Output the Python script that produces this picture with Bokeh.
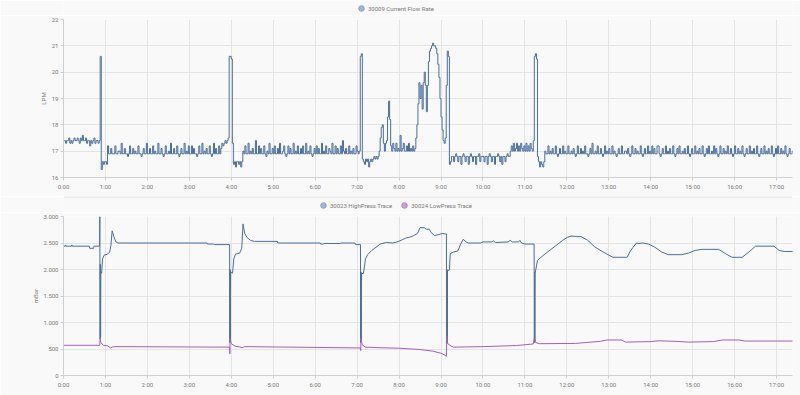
from bokeh.plotting import figure
from bokeh.layouts import column
from bokeh.models import Range1d, FixedTicker, Legend, LegendItem, Span
from bokeh.embed import file_html
from bokeh.resources import INLINE

# ---------------- data ----------------
hour_ticks = [0, 1, 2, 3, 4, 5, 6, 7, 8, 9, 10, 11, 12, 13, 14, 15, 16, 17]
hour_labels = ["0:00", "1:00", "2:00", "3:00", "4:00", "5:00", "6:00", "7:00", "8:00",
               "9:00", "10:00", "11:00", "12:00", "13:00", "14:00", "15:00", "16:00", "17:00"]

flow_ticks = [16, 17, 18, 19, 20, 21, 22]
flow_labels = ["16", "17", "18", "19", "20", "21", "22"]
press_ticks = [0, 500, 1000, 1500, 2000, 2500, 3000]
press_labels = ["0", "500", "1.000", "1.500", "2.000", "2.500", "3.000"]

# Current flow rate (LPM), one reading every 1.5 minutes, one list per hour
FLOW_SAMPLE_H = 0.025
flow_h00 = [17.4, 17.4, 17.3, 17.4, 17.4, 17.5, 17.3, 17.4, 17.3, 17.4, 17.5, 17.4, 17.4, 17.5, 17.4, 17.3, 17.5, 17.4, 17.6, 17.4,
            17.4, 17.5, 17.3, 17.4, 17.4, 17.2, 17.4, 17.3, 17.4, 17.5, 17.3, 17.4, 17.4, 17.3, 17.4, 20.6, 16.3, 16.6, 16.5, 16.6]
flow_h01 = [16.6, 16.5, 17.2, 16.9, 16.9, 17.1, 16.9, 16.9, 16.9, 17.2, 16.9, 16.9, 17.0, 17.0, 16.9, 17.3, 16.9, 16.9, 17.1, 16.9,
            16.9, 16.8, 16.9, 17.2, 16.9, 16.9, 17.1, 16.9, 17.0, 16.9, 16.9, 17.2, 16.9, 16.9, 16.8, 16.9, 17.1, 16.9, 16.9, 17.3]
flow_h02 = [16.9, 16.9, 17.1, 16.9, 16.9, 17.2, 16.9, 17.0, 16.9, 16.9, 17.3, 16.9, 16.9, 17.1, 16.9, 16.8, 16.9, 17.2, 16.9, 16.9,
            17.0, 16.9, 17.3, 16.9, 16.9, 17.1, 16.9, 16.9, 17.2, 16.9, 16.8, 16.9, 17.1, 16.9, 16.9, 17.3, 16.9, 17.0, 16.9, 17.2]
flow_h03 = [16.9, 16.9, 17.2, 16.9, 17.1, 16.9, 16.9, 16.8, 16.9, 17.2, 16.9, 16.9, 17.3, 16.9, 17.0, 16.9, 17.1, 16.9, 16.9, 17.2,
            16.9, 16.8, 16.9, 17.3, 16.9, 17.1, 16.9, 16.9, 17.2, 16.9, 17.1, 17.3, 17.2, 17.3, 17.4, 17.3, 17.4, 17.5, 20.6, 20.6]
flow_h04 = [20.5, 17.3, 16.5, 16.6, 16.4, 16.6, 16.6, 16.5, 16.6, 16.4, 16.6, 17.0, 16.9, 17.2, 16.9, 16.9, 17.3, 16.9, 17.0, 16.9,
            17.1, 16.9, 16.9, 17.4, 16.9, 16.9, 17.2, 16.9, 17.1, 16.9, 16.9, 17.2, 16.9, 16.8, 17.0, 16.9, 17.3, 16.9, 16.9, 17.1]
flow_h05 = [16.9, 17.2, 16.9, 16.9, 17.1, 16.9, 17.3, 16.9, 16.9, 17.0, 17.2, 16.9, 16.8, 16.9, 17.2, 16.9, 17.1, 16.9, 16.9, 17.3,
            16.9, 17.0, 16.9, 17.2, 16.9, 16.9, 17.1, 16.9, 17.2, 16.9, 16.9, 17.3, 16.9, 17.0, 16.9, 17.2, 16.9, 16.8, 16.9, 17.1]
flow_h06 = [16.9, 17.2, 16.9, 17.1, 16.9, 16.9, 17.3, 16.9, 17.0, 16.9, 17.2, 16.9, 16.9, 17.1, 17.0, 16.9, 17.3, 16.9, 16.9, 17.2,
            16.9, 17.1, 16.9, 16.9, 17.2, 16.9, 17.4, 17.0, 16.9, 17.1, 16.9, 16.9, 17.2, 16.9, 17.0, 16.9, 17.1, 16.9, 16.9, 17.2]
flow_h07 = [17.0, 16.9, 17.0, 20.6, 20.7, 16.7, 16.6, 16.5, 16.7, 16.6, 16.7, 16.4, 16.6, 16.7, 16.6, 16.7, 16.8, 16.7, 16.8, 16.7,
            16.8, 17.0, 17.5, 17.9, 18.0, 17.3, 17.0, 17.3, 17.4, 18.3, 18.9, 18.2, 17.2, 17.0, 17.3, 17.1, 17.0, 17.3, 17.0, 17.1]
flow_h08 = [17.0, 17.6, 17.0, 17.1, 17.3, 17.0, 17.0, 17.2, 17.0, 17.3, 17.0, 17.1, 17.0, 17.2, 17.0, 17.1, 17.5, 18.0, 18.8, 19.6,
            19.0, 19.5, 18.6, 19.6, 20.0, 19.5, 18.5, 19.5, 20.4, 20.8, 20.9, 21.0, 21.1, 21.0, 21.0, 20.9, 20.7, 20.3, 19.8, 19.0]
flow_h09 = [18.3, 17.8, 17.4, 17.3, 17.5, 19.5, 20.8, 20.6, 16.5, 16.6, 16.8, 16.8, 16.6, 16.8, 16.9, 16.8, 16.6, 16.8, 16.8, 16.5,
            16.8, 16.9, 16.8, 16.6, 16.8, 16.8, 16.5, 16.8, 16.9, 16.8, 16.6, 16.8, 16.8, 16.5, 16.8, 16.8, 16.9, 16.6, 16.8, 16.8]
flow_h10 = [16.8, 16.6, 16.8, 16.8, 16.5, 16.8, 16.9, 16.8, 16.6, 16.8, 16.8, 16.5, 16.8, 16.8, 16.9, 16.8, 16.6, 16.8, 16.5, 16.8,
            16.8, 16.6, 16.8, 16.9, 16.8, 16.8, 17.0, 17.2, 17.0, 17.3, 17.0, 17.1, 17.3, 17.0, 17.2, 17.0, 17.3, 17.1, 17.0, 17.2]
flow_h11 = [17.0, 17.3, 17.0, 17.2, 17.0, 17.3, 17.1, 17.0, 17.4, 20.6, 20.7, 20.5, 16.8, 16.6, 16.4, 16.6, 16.5, 16.4, 16.6, 17.0,
            16.9, 16.9, 17.2, 16.9, 17.0, 16.9, 17.1, 16.9, 16.9, 17.2, 16.9, 16.8, 16.9, 17.1, 16.9, 16.9, 17.2, 16.9, 17.0, 16.9]
flow_h12 = [16.9, 17.2, 16.9, 16.9, 17.0, 16.9, 17.1, 16.9, 16.8, 16.9, 17.2, 16.9, 16.9, 17.1, 16.9, 17.0, 16.9, 17.2, 16.9, 16.9,
            16.8, 16.9, 17.1, 16.9, 17.3, 16.9, 16.9, 17.0, 16.9, 17.2, 16.9, 16.9, 17.1, 16.9, 16.8, 16.9, 17.2, 16.9, 17.0, 16.9]
flow_h13 = [17.1, 16.9, 16.9, 17.2, 16.9, 17.0, 16.9, 16.8, 16.9, 17.1, 16.9, 16.9, 17.2, 16.9, 16.9, 17.0, 17.0, 16.9, 17.1, 16.9,
            16.8, 16.9, 17.2, 16.9, 16.9, 17.1, 16.9, 17.0, 16.9, 16.9, 17.2, 16.9, 16.8, 16.9, 17.1, 16.9, 16.9, 17.2, 16.9, 17.0]
flow_h14 = [16.9, 17.2, 16.9, 17.1, 16.9, 16.9, 17.2, 17.2, 16.9, 16.8, 16.9, 17.1, 16.9, 16.9, 17.2, 16.9, 17.0, 16.9, 17.1, 16.9,
            16.9, 17.2, 16.9, 16.8, 16.9, 17.1, 16.9, 17.2, 16.9, 16.9, 17.0, 16.9, 17.1, 16.9, 16.9, 17.2, 16.9, 16.8, 16.9, 17.1]
flow_h15 = [16.9, 16.9, 17.2, 16.9, 17.0, 16.9, 17.1, 16.9, 16.9, 17.2, 16.9, 16.8, 16.9, 17.1, 16.9, 17.2, 16.9, 16.9, 17.0, 16.9,
            17.2, 16.9, 17.1, 16.9, 16.8, 16.9, 17.2, 16.9, 16.9, 17.1, 16.9, 17.0, 16.9, 17.2, 16.9, 16.9, 17.1, 16.9, 16.8, 16.9]
flow_h16 = [17.2, 16.9, 16.9, 17.1, 16.9, 17.0, 16.9, 17.2, 16.9, 16.8, 16.9, 17.1, 16.9, 16.9, 17.2, 16.9, 17.0, 16.9, 17.1, 16.9,
            16.9, 17.2, 16.9, 16.8, 16.9, 17.1, 16.9, 16.9, 17.2, 16.9, 17.0, 16.9, 17.1, 16.9, 16.9, 17.2, 16.9, 16.8, 16.9, 17.1]
flow_h17 = [16.9, 17.2, 16.9, 16.9, 17.1, 16.9, 17.0, 16.9, 17.2, 16.9, 16.8, 16.9, 17.1, 16.9, 16.9, 17.0, 16.9]

# (hour, mBar)
high_press = [
    (0.00, 2440), (0.04, 2440), (0.045, 2460), (0.055, 2460), (0.06, 2440), (0.19, 2440),
    (0.195, 2460), (0.205, 2460), (0.21, 2440), (0.62, 2440), (0.625, 2400), (0.72, 2400),
    (0.725, 2440), (0.860, 2440), (0.866, 3000), (0.872, 690), (0.878, 2100), (0.884, 720),
    (0.890, 1950), (0.91, 1930), (0.93, 2200), (0.97, 2270), (1.05, 2290), (1.10, 2330),
    (1.13, 2450), (1.16, 2730), (1.20, 2620), (1.25, 2520), (1.30, 2500), (3.42, 2500),
    (3.43, 2480), (3.58, 2480), (3.59, 2470), (3.960, 2470), (3.966, 620), (3.972, 2000),
    (3.978, 650), (3.984, 1950), (4.03, 1930), (4.06, 2200), (4.10, 2290), (4.20, 2310),
    (4.25, 2400), (4.28, 2860), (4.32, 2680), (4.38, 2600), (4.46, 2550), (4.55, 2530),
    (5.10, 2530), (5.11, 2500), (6.12, 2500), (6.13, 2480), (6.20, 2480), (6.21, 2490),
    (6.60, 2490), (6.61, 2500), (6.95, 2500), (6.96, 2470), (7.080, 2470), (7.086, 620),
    (7.092, 1950), (7.098, 650), (7.104, 1930), (7.15, 1920), (7.20, 2200), (7.25, 2280),
    (7.35, 2360), (7.45, 2420), (7.55, 2480), (7.70, 2510), (7.85, 2500), (7.95, 2520),
    (8.05, 2550), (8.15, 2590), (8.25, 2610), (8.35, 2640), (8.44, 2680), (8.50, 2790),
    (8.60, 2790), (8.65, 2760), (8.72, 2760), (8.76, 2700), (8.85, 2640), (8.95, 2660),
    (9.03, 2680), (9.10, 2670), (9.130, 2670), (9.136, 600), (9.142, 2000), (9.148, 620),
    (9.154, 1980), (9.20, 1990), (9.22, 2300), (9.30, 2330), (9.40, 2350), (9.47, 2480),
    (9.53, 2570), (9.60, 2520), (9.65, 2500), (9.95, 2500), (10.00, 2520), (10.20, 2520),
    (10.25, 2540), (10.30, 2510), (10.60, 2520), (10.65, 2550), (10.70, 2520), (10.85, 2520),
    (10.88, 2550), (10.92, 2500), (11.00, 2480), (11.220, 2480), (11.226, 620), (11.232, 1950),
    (11.238, 650), (11.244, 1930), (11.30, 2170), (11.38, 2230), (11.54, 2330), (11.74, 2450),
    (11.90, 2550), (12.02, 2610), (12.10, 2630), (12.34, 2620), (12.50, 2550), (12.66, 2430),
    (12.82, 2350), (12.98, 2280), (13.10, 2230), (13.44, 2230), (13.50, 2330), (13.58, 2420),
    (13.66, 2500), (13.72, 2490), (13.80, 2500), (13.95, 2480), (14.10, 2420), (14.26, 2330),
    (14.42, 2280), (14.74, 2280), (14.90, 2310), (15.06, 2360), (15.22, 2380), (15.62, 2380),
    (15.78, 2300), (15.94, 2230), (16.18, 2230), (16.34, 2330), (16.50, 2440), (16.94, 2440),
    (17.06, 2360), (17.18, 2340), (17.40, 2340),
]
low_press = [
    (0.00, 570), (0.866, 570), (0.872, 700), (0.89, 620), (0.95, 570), (1.05, 560),
    (1.12, 520), (1.17, 540), (1.25, 545), (3.960, 535), (3.966, 410), (3.972, 700),
    (4.00, 600), (4.10, 550), (4.20, 540), (4.26, 525), (4.32, 545), (7.080, 520),
    (7.086, 470), (7.092, 700), (7.12, 580), (7.20, 535), (7.50, 525), (8.00, 515),
    (8.50, 490), (8.80, 460), (9.00, 420), (9.10, 380), (9.130, 360), (9.136, 750),
    (9.16, 600), (9.25, 550), (9.30, 535), (10.00, 545), (10.80, 565), (11.20, 595),
    (11.226, 700), (11.26, 620), (11.35, 600), (12.20, 605), (12.80, 645), (12.95, 670),
    (13.30, 670), (13.40, 630), (14.00, 640), (14.20, 655), (14.70, 640), (14.90, 630),
    (15.50, 640), (15.70, 670), (16.10, 670), (16.25, 650), (17.40, 650),
]

flow_hours = [flow_h00, flow_h01, flow_h02, flow_h03, flow_h04, flow_h05, flow_h06, flow_h07, flow_h08,
              flow_h09, flow_h10, flow_h11, flow_h12, flow_h13, flow_h14, flow_h15, flow_h16, flow_h17]
flow_t, flow_lpm = [], []
for hour, readings in enumerate(flow_hours):
    for i, v in enumerate(readings):
        flow_t.append(hour + i * FLOW_SAMPLE_H)
        flow_lpm.append(v)
high_t = [p[0] for p in high_press]
high_v = [p[1] for p in high_press]
low_t = [p[0] for p in low_press]
low_v = [p[1] for p in low_press]

# ---------------- style ----------------
FONT = "Roboto"
BG = "#f9f9f9"
GRID = "#e4e4e4"
AXIS = "#cfcfcf"
SEP = "#dedede"
TEXT = "#7b7b7b"
BLUE = "#4a6d9f"
PURPLE = "#a65cc2"
BLUE_DOT = "#a3b5d0"
BLUE_DOT_LINE = "#8fa4c4"
PURPLE_DOT = "#caa2d9"
PURPLE_DOT_LINE = "#b98bcc"
X_END = 17.38
GLYPH = 14
W = 800
FRAME_LEFT = 63


def style(p, ylabel, yticks, ylabels, label_standoff):
    p.background_fill_color = BG
    p.border_fill_color = BG
    p.outline_line_color = None
    p.xaxis.ticker = FixedTicker(ticks=hour_ticks)
    p.xaxis.major_label_overrides = dict(zip(hour_ticks, hour_labels))
    p.yaxis.ticker = FixedTicker(ticks=yticks)
    p.yaxis.major_label_overrides = dict(zip(yticks, ylabels))
    p.yaxis.axis_label = ylabel
    for ax in p.axis:
        ax.axis_line_color = AXIS
        ax.major_tick_line_color = AXIS
        ax.major_tick_in = 0
        ax.major_tick_out = 3
        ax.minor_tick_line_color = None
        ax.major_label_text_font = FONT
        ax.major_label_text_font_size = "6px"
        ax.major_label_text_color = TEXT
        ax.major_label_standoff = 2
        ax.axis_label_text_font = FONT
        ax.axis_label_text_font_size = "6px"
        ax.axis_label_text_font_style = "normal"
        ax.axis_label_text_color = TEXT
    p.yaxis.axis_label_standoff = label_standoff
    p.grid.grid_line_color = GRID
    p.grid.grid_line_width = 1


def legend_strip(height, entries, x_left, separator=False):
    """A thin figure that only carries the legend of the chart below it."""
    s = figure(width=W, height=height, output_backend="svg", toolbar_location=None,
               x_range=Range1d(0, W), y_range=Range1d(0, height),
               x_axis_type=None, y_axis_type=None,
               min_border_left=0, min_border_right=0, min_border_top=0, min_border_bottom=0)
    s.background_fill_color = BG
    s.border_fill_color = BG
    s.outline_line_color = None
    s.grid.visible = False
    items = []
    for label, fill, line in entries:
        proxy = s.scatter(x=[-50], y=[-50], marker="circle", size=7,
                          fill_color=fill, line_color=line)
        items.append(LegendItem(label=label, renderers=[proxy]))
    # the strip's frame is aligned with the charts' frames (starts at FRAME_LEFT)
    leg = Legend(items=items, orientation="horizontal", location=(x_left - FRAME_LEFT, 0),
                 glyph_height=GLYPH, glyph_width=GLYPH, label_height=GLYPH, label_standoff=0,
                 padding=0, margin=0, spacing=5,
                 label_text_font=FONT, label_text_font_size="6px", label_text_color=TEXT,
                 background_fill_alpha=0, border_line_color=None)
    s.add_layout(leg)
    if separator:
        s.add_layout(Span(location=height - 0.5, dimension="width", line_color=SEP, line_width=1))
    return s


# ---------------- top chart ----------------
leg1 = legend_strip(15, [("30009 Current Flow Rate", BLUE_DOT, BLUE_DOT_LINE)], 354)
p1 = figure(width=W, height=181, output_backend="svg", toolbar_location=None,
            x_range=Range1d(0, X_END), y_range=Range1d(16, 22),
            min_border_left=FRAME_LEFT, min_border_right=8, min_border_top=4, min_border_bottom=19)
style(p1, "LPM", flow_ticks, flow_labels, 2)
p1.step(flow_t, flow_lpm, mode="after", line_color=BLUE, line_width=1)

# ---------------- bottom chart ----------------
leg2 = legend_strip(16, [("30023 HighPress Trace", BLUE_DOT, BLUE_DOT_LINE),
                         ("30024 LowPress Trace", PURPLE_DOT, PURPLE_DOT_LINE)], 316, separator=True)
p2 = figure(width=W, height=183, output_backend="svg", toolbar_location=None,
            x_range=Range1d(0, X_END), y_range=Range1d(0, 3000),
            min_border_left=FRAME_LEFT, min_border_right=8, min_border_top=4, min_border_bottom=20)
style(p2, "mBar", press_ticks, press_labels, 1)
p2.line(high_t, high_v, line_color=BLUE, line_width=1)
p2.line(low_t, low_v, line_color=PURPLE, line_width=1)

layout = column(leg1, p1, leg2, p2, spacing=0)
open("out.html", "w").write(file_html(layout, INLINE))
